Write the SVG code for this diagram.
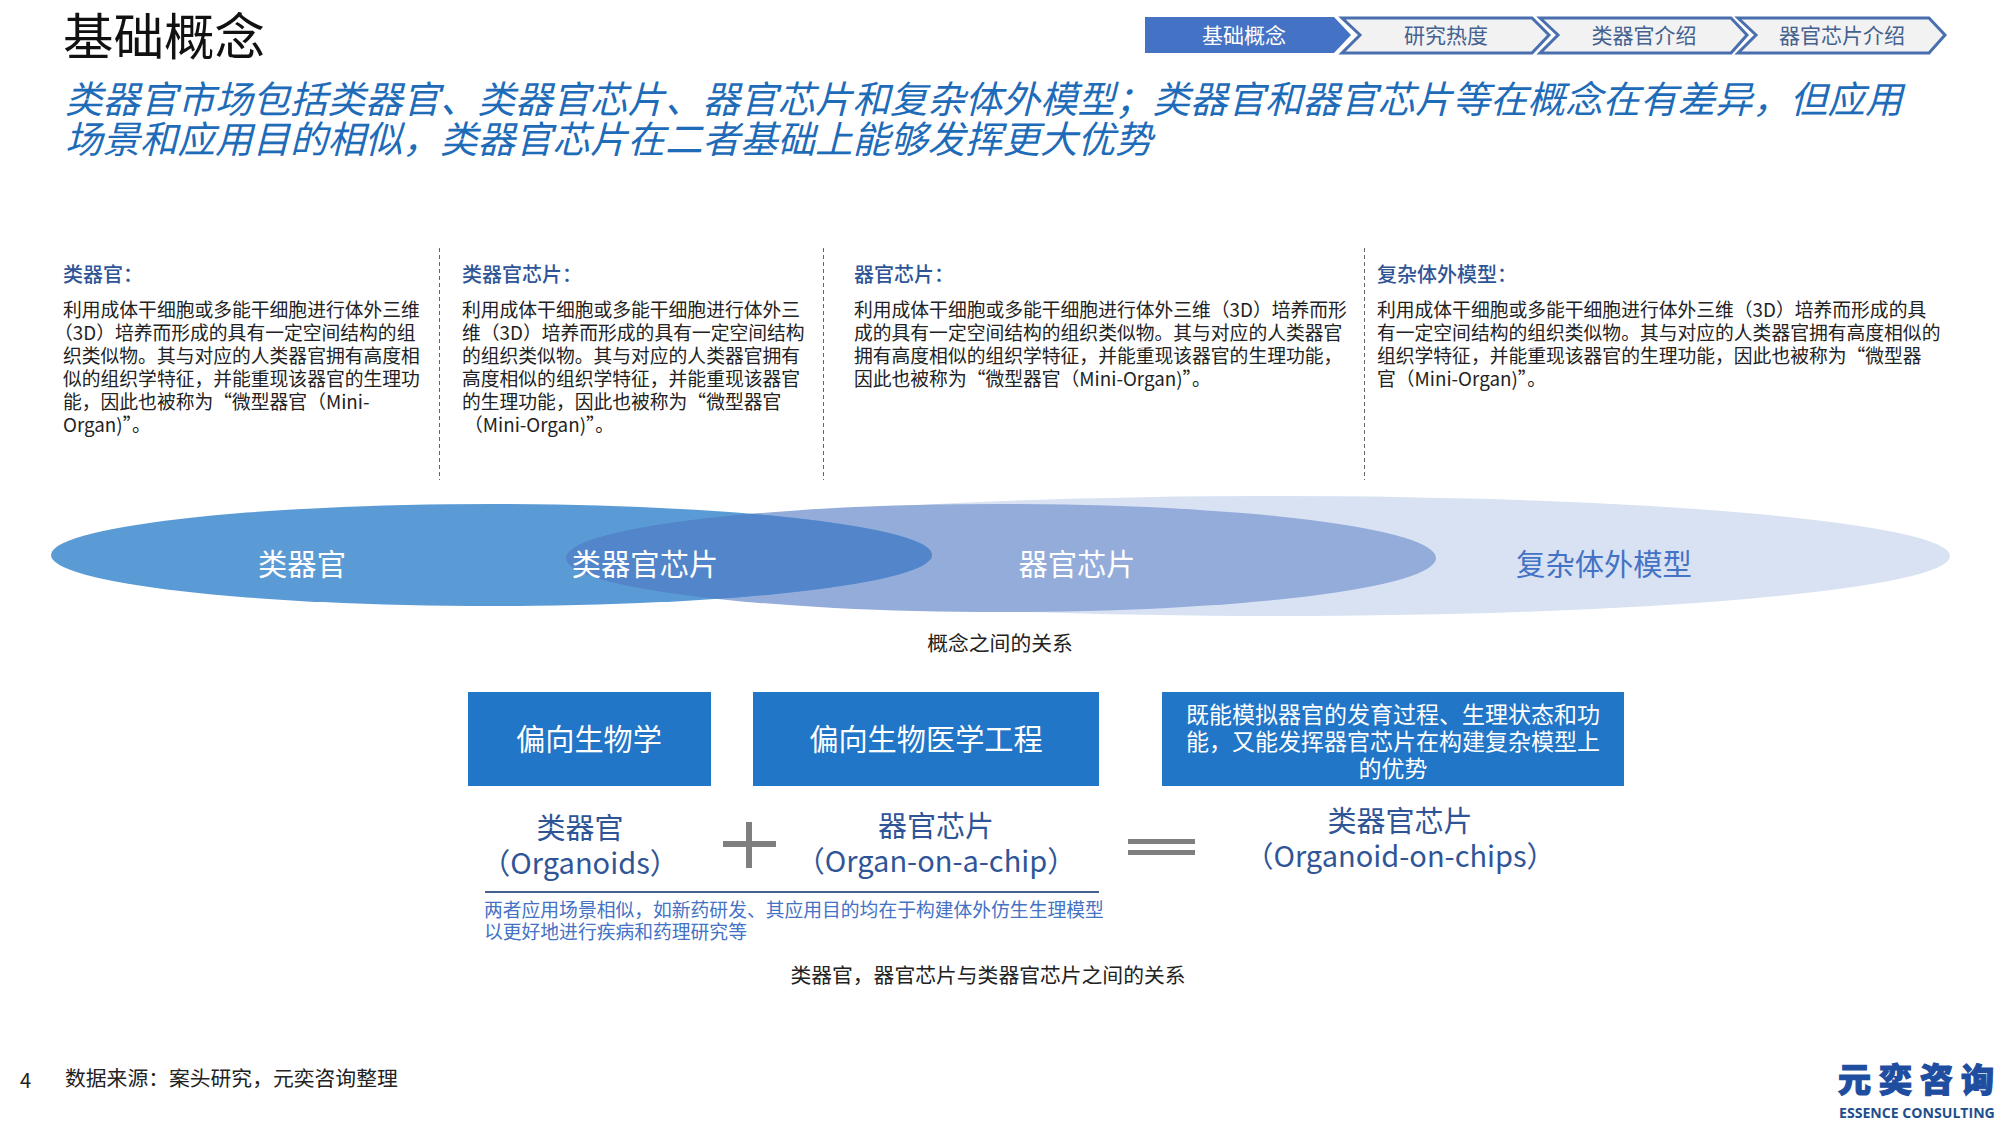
<svg xmlns="http://www.w3.org/2000/svg" width="2001" height="1125" viewBox="0 0 2001 1125">
<style>
text{font-family:"Noto Sans CJK SC","Noto Sans",sans-serif}
.body{font-size:18.8px;fill:#222}
.head{font-size:20px;fill:#2f5597;font-weight:500}
.tab{font-size:21px;fill:#44618f;text-anchor:middle}
.chev{fill:#f2f2f2;stroke:#4a6fae;stroke-width:3}
.sub{font-size:37.5px;fill:#1e6bb8;font-style:italic}
.box{fill:#2176c7}
.bt{font-size:29.2px;fill:#fff;text-anchor:middle}
.nm{font-size:29px;fill:#2f5597;text-anchor:middle}
.cap{font-size:20.8px;fill:#222;text-anchor:middle}
.el{font-size:29.3px;fill:#fff;text-anchor:middle}
.div{stroke:#666;stroke-width:1;stroke-dasharray:4 3;fill:none}
.note{font-size:18.8px;fill:#4472c4}
</style>
<defs><clipPath id="c1"><ellipse cx="491.500" cy="555" rx="440.500" ry="51"/></clipPath></defs>
<rect width="2001" height="1125" fill="#fff"/>
<text x="63" y="55" font-size="50.500" fill="#111">基础概念</text>
<g id="nav">
<g id="tab1"><path d="M1145 17H1334L1351 35L1334 53H1145Z" fill="#4472c4"/><text x="1244" y="43" class="tab" style="fill:#fff">基础概念</text></g>
<g id="tab2"><path class="chev" d="M1342 18H1532L1549 35L1532 53H1342L1360 35Z"/><text x="1446" y="43" class="tab">研究热度</text></g>
<g id="tab3"><path class="chev" d="M1540 18H1731L1747 35L1731 53H1540L1558 35Z"/><text x="1644" y="43" class="tab">类器官介绍</text></g>
<g id="tab4"><path class="chev" d="M1738 18H1929L1945 35L1929 53H1738L1756 35Z"/><text x="1842" y="43" class="tab">器官芯片介绍</text></g>
</g>
<text x="65" y="113" class="sub">类器官市场包括类器官、类器官芯片、器官芯片和复杂体外模型；类器官和器官芯片等在概念在有差异，但应用</text>
<text x="65" y="153" class="sub">场景和应用目的相似，类器官芯片在二者基础上能够发挥更大优势</text>
<g id="dividers">
<line class="div" x1="439.500" y1="248" x2="439.500" y2="480"/>
<line class="div" x1="823.500" y1="248" x2="823.500" y2="480"/>
<line class="div" x1="1364.500" y1="248" x2="1364.500" y2="480"/>
</g>
<g id="col1">
<text x="63" y="282" class="head">类器官：</text>
<text class="body"><tspan x="63" y="317">利用成体干细胞或多能干细胞进行体外三维</tspan><tspan x="54" y="340">（3D）培养而形成的具有一定空间结构的组</tspan><tspan x="63" y="363">织类似物。其与对应的人类器官拥有高度相</tspan><tspan x="63" y="386">似的组织学特征，并能重现该器官的生理功</tspan><tspan x="63" y="409">能，因此也被称为“微型器官（Mini-</tspan><tspan x="63" y="432">Organ)”。</tspan></text>
</g>
<g id="col2">
<text x="462" y="282" class="head">类器官芯片：</text>
<text class="body"><tspan x="462" y="317">利用成体干细胞或多能干细胞进行体外三</tspan><tspan x="462" y="340">维（3D）培养而形成的具有一定空间结构</tspan><tspan x="462" y="363">的组织类似物。其与对应的人类器官拥有</tspan><tspan x="462" y="386">高度相似的组织学特征，并能重现该器官</tspan><tspan x="462" y="409">的生理功能，因此也被称为“微型器官</tspan><tspan x="464" y="432">（Mini-Organ)”。</tspan></text>
</g>
<g id="col3">
<text x="854" y="282" class="head">器官芯片：</text>
<text class="body"><tspan x="854" y="317">利用成体干细胞或多能干细胞进行体外三维（3D）培养而形</tspan><tspan x="854" y="340">成的具有一定空间结构的组织类似物。其与对应的人类器官</tspan><tspan x="854" y="363">拥有高度相似的组织学特征，并能重现该器官的生理功能，</tspan><tspan x="854" y="386">因此也被称为“微型器官（Mini-Organ)”。</tspan></text>
</g>
<g id="col4">
<text x="1377" y="282" class="head">复杂体外模型：</text>
<text class="body"><tspan x="1377" y="317">利用成体干细胞或多能干细胞进行体外三维（3D）培养而形成的具</tspan><tspan x="1377" y="340">有一定空间结构的组织类似物。其与对应的人类器官拥有高度相似的</tspan><tspan x="1377" y="363">组织学特征，并能重现该器官的生理功能，因此也被称为“微型器</tspan><tspan x="1377" y="386">官（Mini-Organ)”。</tspan></text>
</g>
<g id="ellipses">
<g id="complex"><ellipse cx="1275" cy="556" rx="675" ry="60" fill="#d9e2f3"/><text x="1604" y="575" class="el" style="fill:#4472c4">复杂体外模型</text></g>
<g id="organchip"><ellipse cx="1001" cy="558" rx="435" ry="54" fill="#93acda"/><text x="1077" y="575" class="el">器官芯片</text></g>
<g id="organoid"><ellipse cx="491.500" cy="555" rx="440.500" ry="51" fill="#5b9bd5"/><ellipse cx="1001" cy="558" rx="435" ry="54" fill="#5285c9" clip-path="url(#c1)"/><text x="302" y="575" class="el">类器官</text><text x="645" y="575" class="el">类器官芯片</text></g>
</g>
<text x="1000" y="651" class="cap">概念之间的关系</text>
<g id="b1"><rect class="box" x="468" y="692" width="243" height="94"/><text x="589" y="750" class="bt">偏向生物学</text></g>
<g id="b2"><rect class="box" x="753" y="692" width="346" height="94"/><text x="926" y="750" class="bt">偏向生物医学工程</text></g>
<g id="b3"><rect class="box" x="1162" y="692" width="462" height="94"/><text font-size="23" fill="#fff" text-anchor="middle"><tspan x="1393" y="723">既能模拟器官的发育过程、生理状态和功</tspan><tspan x="1393" y="750">能，又能发挥器官芯片在构建复杂模型上</tspan><tspan x="1393" y="777">的优势</tspan></text></g>
<g id="n1"><text class="nm"><tspan x="580" y="839">类器官</tspan><tspan x="580" y="874">（Organoids）</tspan></text></g>
<g id="n2"><text class="nm"><tspan x="936" y="837">器官芯片</tspan><tspan x="936" y="872">（Organ-on-a-chip）</tspan></text></g>
<g id="n3"><text class="nm"><tspan x="1400" y="832">类器官芯片</tspan><tspan x="1400" y="867">（Organoid-on-chips）</tspan></text></g>
<g id="ops" fill="#7f7f7f">
<rect x="723" y="841" width="53" height="6"/><rect x="746" y="822" width="6" height="46"/>
<rect x="1128" y="839" width="67" height="5"/><rect x="1128" y="850" width="67" height="5"/>
</g>
<line x1="485" y1="892" x2="1099" y2="892" stroke="#44618f" stroke-width="2"/>
<text class="note"><tspan x="484" y="917">两者应用场景相似，如新药研发、其应用目的均在于构建体外仿生生理模型</tspan><tspan x="484" y="939">以更好地进行疾病和药理研究等</tspan></text>
<text x="988" y="983" class="cap">类器官，器官芯片与类器官芯片之间的关系</text>
<text x="20" y="1088" font-size="20" fill="#222">4</text>
<text x="65" y="1086" font-size="20.800" fill="#222">数据来源：案头研究，元奕咨询整理</text>
<g id="logo">
<text x="1838" y="1092" font-size="33" font-weight="900" fill="#1f4ea1" stroke="#1f4ea1" stroke-width="1.200" letter-spacing="8">元奕咨询</text>
<text x="1839" y="1118" font-size="14.100" font-weight="700" fill="#1f4e8c" style="font-family:'Open Sans',sans-serif">ESSENCE CONSULTING</text>
</g>
</svg>
